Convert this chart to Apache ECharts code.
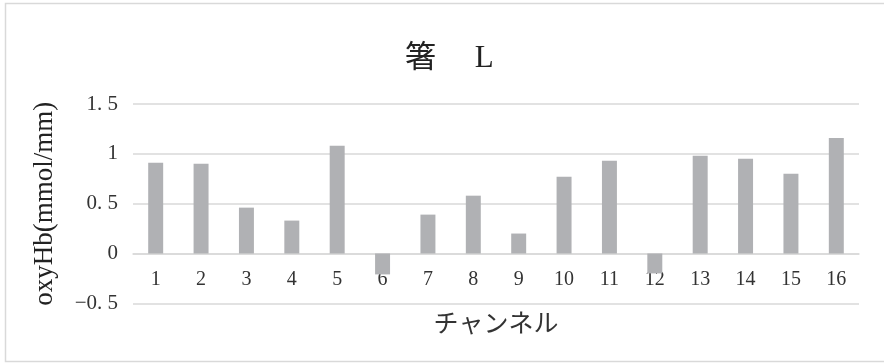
<!DOCTYPE html>
<html>
<head>
<meta charset="utf-8">
<script src="https://cdn.jsdelivr.net/npm/echarts@6/dist/echarts.min.js"></script>
<style>html,body{margin:0;padding:0;background:#fff;}#c{width:884px;height:363px;}</style>
</head>
<body>
<div id="c"></div>
<script>
const titleText = '箸　 L';
const categories = ['1','2','3','4','5','6','7','8','9','10','11','12','13','14','15','16'];
const values = [0.91, 0.90, 0.46, 0.33, 1.08, -0.21, 0.39, 0.58, 0.20, 0.77, 0.93, -0.20, 0.98, 0.95, 0.80, 1.16];
const yTickLabels = {'-0.5':'−0. 5','0':'0','0.5':'0. 5','1':'1','1.5':'1. 5'};
const yAxisName = 'oxyHb(mmol/mm)';
const xAxisName = 'チャンネル';

const FONT = "'Liberation Serif', 'Noto Sans CJK JP', serif";
const GRID_TOP = 104, GRID_BOTTOM = 59.7, H = 363;
const gridH = H - GRID_TOP - GRID_BOTTOM;
const yMin = -0.5, yMax = 1.5;
// move x axis up to the zero line (distance from bottom edge, in px, derived from the axis scale)
const zeroOffset = -gridH * (0 - yMin) / (yMax - yMin);

const chart = echarts.init(document.getElementById('c'), null, {renderer:'canvas'});
chart.setOption({
  animation: false,
  backgroundColor: '#fff',
  graphic: [{
    type: 'rect', silent: true, z: -1,
    shape: {x: 5.5, y: 3.5, width: 900, height: 358},
    style: {fill: 'none', stroke: '#d9d9d9', lineWidth: 1.5}
  }],
  title: {
    text: titleText, left: 400, top: 38,
    textStyle: {fontFamily: FONT, fontSize: 31, fontWeight: 'normal', color: '#222'}
  },
  grid: {left: 133, right: 25, top: GRID_TOP, bottom: GRID_BOTTOM, containLabel: false, outerBoundsMode: 'none'},
  xAxis: {
    type: 'category', data: categories, position: 'bottom', offset: zeroOffset,
    axisLine: {onZero: false, lineStyle: {color: '#d9d9d9', width: 1.5}},
    axisTick: {show: false},
    axisLabel: {fontFamily: FONT, fontSize: 20, color: '#333', margin: 16},
    name: xAxisName, nameLocation: 'middle', nameGap: 59,
    nameTextStyle: {fontFamily: FONT, fontSize: 25, color: '#333'}
  },
  yAxis: {
    type: 'value', min: yMin, max: yMax, interval: 0.5,
    axisLine: {show: false}, axisTick: {show: false},
    splitLine: {lineStyle: {color: '#d9d9d9', width: 1.5}},
    axisLabel: {fontFamily: FONT, fontSize: 21, color: '#333', margin: 15,
      formatter: v => yTickLabels[String(Math.round(v*10)/10)] ?? String(v)},
    name: yAxisName, nameLocation: 'middle', nameRotate: 90, nameGap: 75,
    nameTextStyle: {fontFamily: FONT, fontSize: 27, color: '#222'}
  },
  series: [{
    type: 'bar', data: values, barWidth: '33%',
    itemStyle: {color: '#b0b1b4'}
  }]
});
</script>
</body>
</html>
